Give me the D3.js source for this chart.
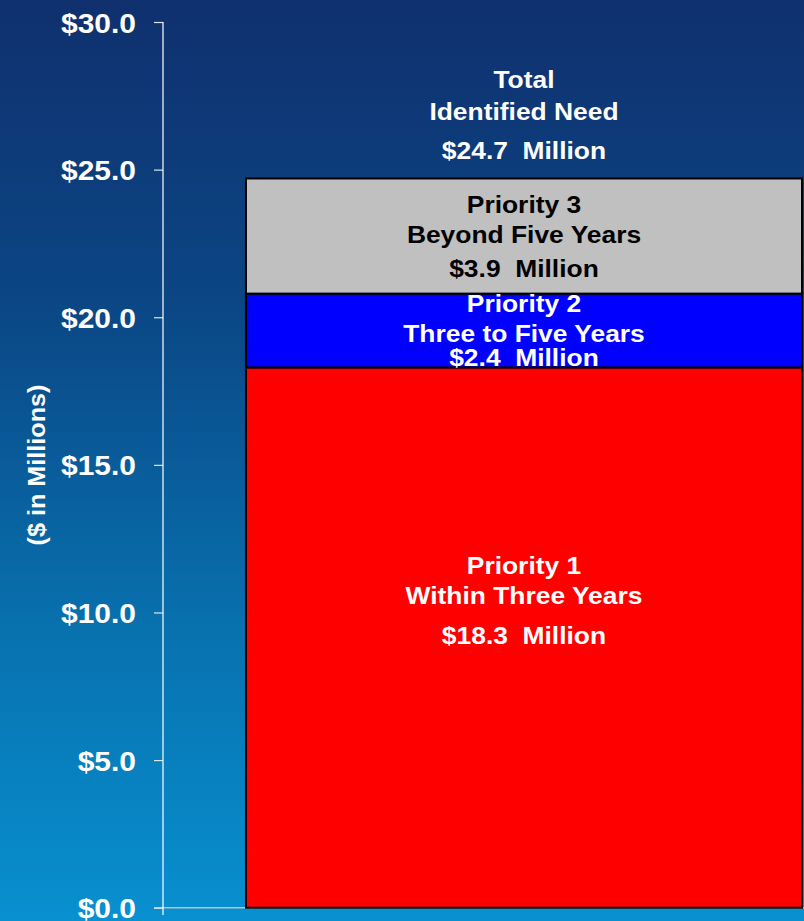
<!DOCTYPE html>
<html>
<head>
<meta charset="utf-8">
<script src="https://cdn.jsdelivr.net/npm/d3@7"></script>
<style>
  html, body { margin: 0; padding: 0; overflow: hidden; }
  svg { display: block; font-family: "Liberation Sans", Arial, sans-serif; font-weight: bold; }
  svg text { white-space: pre; }
</style>
</head>
<body>
<div class="graph"></div>
<script>
// stacked segments, bottom to top
const segments = ["Priority 1", "Priority 2", "Priority 3"];
const segmentValues = [18.3, 2.5, 3.9];
const segmentColors = ["#ff0000", "#0000ff", "#c0c0c0"];
const segmentTextColors = ["#ffffff", "#ffffff", "#000000"];
const segmentLabels = [
  ["Priority 1", "Within Three Years", "$18.3  Million"],
  ["Priority 2", "Three to Five Years", "$2.4  Million"],
  ["Priority 3", "Beyond Five Years", "$3.9  Million"]
];
const totalLabel = ["Total", "Identified Need", "$24.7  Million"];
const yTicks = [0, 5, 10, 15, 20, 25, 30];
const yTitle = "($ in Millions)";

const W = 804, H = 921;
const margins = { top: 22, right: 0, bottom: 13, left: 163 };

const svg = d3.select(".graph").append("svg")
  .attr("width", W)
  .attr("height", H);

// background
const defs = svg.append("defs");
const bg = defs.append("linearGradient")
  .attr("id", "bg-gradient")
  .attr("x1", "0%").attr("y1", "0%")
  .attr("x2", "0%").attr("y2", "100%");
bg.append("stop").attr("offset", "0%").attr("stop-color", "#10306e");
bg.append("stop").attr("offset", "33%").attr("stop-color", "#0b4685");
bg.append("stop").attr("offset", "67%").attr("stop-color", "#0870ad");
bg.append("stop").attr("offset", "100%").attr("stop-color", "#0890d0");
svg.append("rect").attr("width", W).attr("height", H).attr("fill", "url(#bg-gradient)");

const y = d3.scaleLinear()
  .domain([0, 30])
  .range([H - margins.bottom - 0.3, margins.top]);

const x = d3.scaleBand()
  .domain(["need"])
  .range([margins.left, 1441])
  .paddingInner(0)
  .paddingOuter(0.0746);

// stack data
let acc = 0;
const stacked = segmentValues.map((v, i) => {
  const d = { i, y0: acc, y1: acc + v };
  acc += v;
  return d;
});
const total = acc;

// x baseline (grey)
svg.append("line")
  .attr("x1", 154).attr("x2", W)
  .attr("y1", y(0)).attr("y2", y(0))
  .attr("stroke", "#b8c4cc")
  .attr("stroke-width", 1.5);

// bars
const bx = x("need");
const bw = 802 - bx;
svg.selectAll(".bar")
  .data(stacked)
  .enter()
  .append("rect")
  .attr("class", "bar")
  .attr("x", bx)
  .attr("width", bw)
  .attr("y", (d) => y(d.y1))
  .attr("height", (d) => y(d.y0) - y(d.y1))
  .attr("fill", (d) => segmentColors[d.i])
  .attr("stroke", "#000")
  .attr("stroke-width", 2);

// y axis
const yAxis = d3.axisLeft(y)
  .tickValues(yTicks)
  .tickSize(9)
  .tickPadding(0)
  .tickFormat((d) => "$" + d3.format(".1f")(d));

const axisG = svg.append("g")
  .attr("transform", `translate(${margins.left},0)`)
  .call(yAxis);
axisG.select(".domain").remove();
axisG.append("line")
  .attr("x1", 0).attr("x2", 0)
  .attr("y1", y(30)).attr("y2", 915)
  .attr("stroke", "#fff").attr("stroke-width", 1.2);
axisG.selectAll(".tick line").attr("stroke", "#dde6ee").attr("stroke-width", 1.2);
axisG.selectAll(".tick text")
  .attr("fill", "#fff")
  .attr("font-size", 28)
  .attr("font-weight", "bold")
  .attr("font-family", "'Liberation Sans', Arial, sans-serif")
  .attr("x", null)
  .attr("dy", "0.36em")
  .attr("transform", "translate(-27,0) scale(1.07,1)");

// y title
svg.append("text")
  .attr("transform", `translate(45,465) rotate(-90) scale(1.05,1)`)
  .attr("text-anchor", "middle")
  .attr("fill", "#fff")
  .attr("font-size", 24)
  .text(yTitle);

// segment labels
const cx = bx + bw / 2;
const sx = 1.1;
const lineGaps = [[30, 40], [30, 24], [30, 34]];
const blockShift = [-37, 0, 0];
stacked.forEach((d) => {
  const lines = segmentLabels[d.i];
  const gaps = lineGaps[d.i];
  const mid = (y(d.y0) + y(d.y1)) / 2 + blockShift[d.i];
  const blockH = 17 + gaps[0] + gaps[1];
  let base = mid - blockH / 2 + 17;
  const t = svg.append("g").attr("fill", segmentTextColors[d.i]);
  lines.forEach((txt, k) => {
    t.append("text")
      .attr("transform", `translate(${cx},${base}) scale(${sx},1)`)
      .attr("text-anchor", "middle")
      .attr("font-size", 24)
      .text(txt);
    if (k < gaps.length) base += gaps[k];
  });
});

// total label above the bar
const totalGaps = [32, 39];
let tb = y(total) - 19;
for (let k = totalLabel.length - 1; k >= 0; k--) {
  svg.append("text")
    .attr("transform", `translate(${cx},${tb}) scale(${sx},1)`)
    .attr("text-anchor", "middle")
    .attr("fill", "#fff")
    .attr("font-size", 24)
    .text(totalLabel[k]);
  if (k > 0) tb -= totalGaps[k - 1];
}
</script>
</body>
</html>
